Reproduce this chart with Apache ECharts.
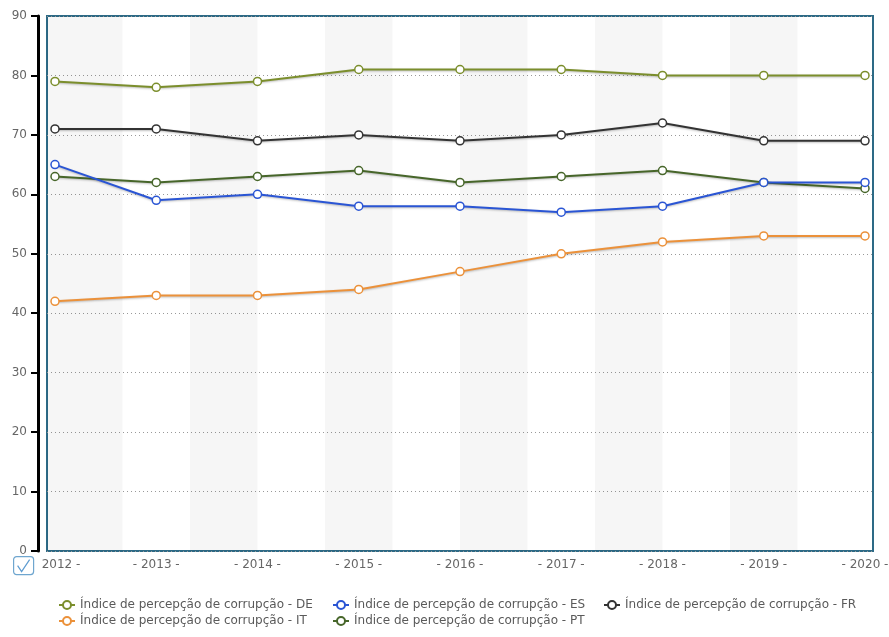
<!DOCTYPE html>
<html>
<head>
<meta charset="utf-8">
<script src="https://cdn.jsdelivr.net/npm/echarts@6/dist/echarts.min.js"></script>
<style>
  html, body { margin: 0; padding: 0; background: #fff; }
  #chart { width: 889px; height: 637px; }
</style>
</head>
<body>
<div id="chart"></div>
<script>
// Corruption perception index by country, 2012–2020
const years = ['2012', '2013', '2014', '2015', '2016', '2017', '2018', '2019', '2020'];
const seriesNames = [
  'Índice de percepção de corrupção - DE',
  'Índice de percepção de corrupção - ES',
  'Índice de percepção de corrupção - FR',
  'Índice de percepção de corrupção - IT',
  'Índice de percepção de corrupção - PT'
];
const valuesDE = [79, 78, 79, 81, 81, 81, 80, 80, 80];
const valuesES = [65, 59, 60, 58, 58, 57, 58, 62, 62];
const valuesFR = [71, 71, 69, 70, 69, 70, 72, 69, 69];
const valuesIT = [42, 43, 43, 44, 47, 50, 52, 53, 53];
const valuesPT = [63, 62, 63, 64, 62, 63, 64, 62, 61];
const yTicks = [0, 10, 20, 30, 40, 50, 60, 70, 80, 90];

const colors = {
  DE: '#7b8e2c',
  ES: '#2a55d4',
  FR: '#333333',
  IT: '#eb913a',
  PT: '#47662a'
};

const FONT = 'DejaVu Sans, Verdana, sans-serif';
const xMin = -0.079, xMax = 8.079;

// alternating light bands every 8 months (2/3 of a year)
const bands = [];
for (let k = 0; k * 4 / 3 < years.length - 1; k++) {
  const a = k * 4 / 3, b = a + 2 / 3;
  bands.push([{ xAxis: k === 0 ? xMin : a }, { xAxis: b }]);
}

function toPairs(arr) { return arr.map((v, i) => [i, v]); }

function lineSeries(name, data, color, extra) {
  return Object.assign({
    name: name,
    type: 'line',
    data: toPairs(data),
    symbol: 'circle',
    symbolSize: 8,
    showSymbol: true,
    lineStyle: {
      color: color, width: 2,
      shadowColor: 'rgba(0,0,0,0.25)', shadowBlur: 2, shadowOffsetY: 1
    },
    itemStyle: { color: '#ffffff', borderColor: color, borderWidth: 1.5 },
    emphasis: { disabled: true },
    z: 3
  }, extra || {});
}

const chart = echarts.init(document.getElementById('chart'), null, { renderer: 'canvas' });

const legendText = { fontFamily: FONT, fontSize: 12, color: '#5a5a5a' };
const legendBase = {
  orient: 'vertical', top: 599, itemWidth: 16, itemHeight: 10, itemGap: 4,
  textStyle: legendText, selectedMode: false, padding: 0
};

chart.setOption({
  animation: false,
  backgroundColor: '#ffffff',
  color: [colors.DE, colors.ES, colors.FR, colors.IT, colors.PT],
  grid: {
    left: 47, top: 16, right: 16, bottom: 86,
    containLabel: false, outerBoundsMode: 'none',
    show: true, borderColor: '#2d6a86', borderWidth: 2, backgroundColor: 'transparent'
  },
  xAxis: {
    type: 'value', min: xMin, max: xMax,
    axisLine: { show: false },
    axisTick: { show: false },
    splitLine: { show: false },
    axisLabel: {
      customValues: years.map((y, i) => i),
      // the first label sits next to the checkbox, so it drops its leading dash
      formatter: v => {
        const i = Math.round(v);
        return i === 0 ? '{first|' + years[i] + ' -}' : '- ' + years[i] + ' -';
      },
      rich: { first: { fontFamily: FONT, fontSize: 12, color: '#666', padding: [0, 0, 0, 12] } },
      fontFamily: FONT, fontSize: 12, color: '#666', margin: 8
    }
  },
  yAxis: {
    type: 'value', min: 0, max: 90, interval: 10, offset: 9,
    axisLine: { show: true, onZero: false, lineStyle: { color: '#000', width: 3 } },
    axisTick: { show: true, inside: false, length: 7, lineStyle: { color: '#000', width: 2 } },
    axisLabel: {
      fontFamily: FONT, fontSize: 12, color: '#666', margin: 11,
      formatter: v => yTicks.includes(v) ? String(v) : ''
    },
    splitLine: { show: true, lineStyle: { color: '#999', type: [1, 3], width: 1 } }
  },
  legend: [
    Object.assign({ left: 58, data: [seriesNames[0], seriesNames[3]] }, legendBase),
    Object.assign({ left: 332, data: [seriesNames[1], seriesNames[4]] }, legendBase),
    Object.assign({ left: 603, data: [seriesNames[2]] }, legendBase)
  ],
  series: [
    lineSeries(seriesNames[3], valuesIT, colors.IT, {
      markArea: {
        silent: true,
        itemStyle: { color: 'rgba(0,0,0,0.035)' },
        data: bands
      }
    }),
    lineSeries(seriesNames[2], valuesFR, colors.FR),
    lineSeries(seriesNames[4], valuesPT, colors.PT),
    lineSeries(seriesNames[1], valuesES, colors.ES),
    lineSeries(seriesNames[0], valuesDE, colors.DE)
  ],
  graphic: [{
    type: 'group', left: 13, top: 556, z: 100,
    children: [
      { type: 'rect', shape: { x: 0, y: 0, width: 20, height: 18, r: 3 },
        style: { fill: '#ffffff', stroke: '#6fa6cf', lineWidth: 1.2 } },
      { type: 'polyline', shape: { points: [[4, 9], [8, 15], [16, 3]] },
        style: { stroke: '#5d9bd0', lineWidth: 1.2, fill: null } }
    ]
  }]
});
</script>
</body>
</html>
